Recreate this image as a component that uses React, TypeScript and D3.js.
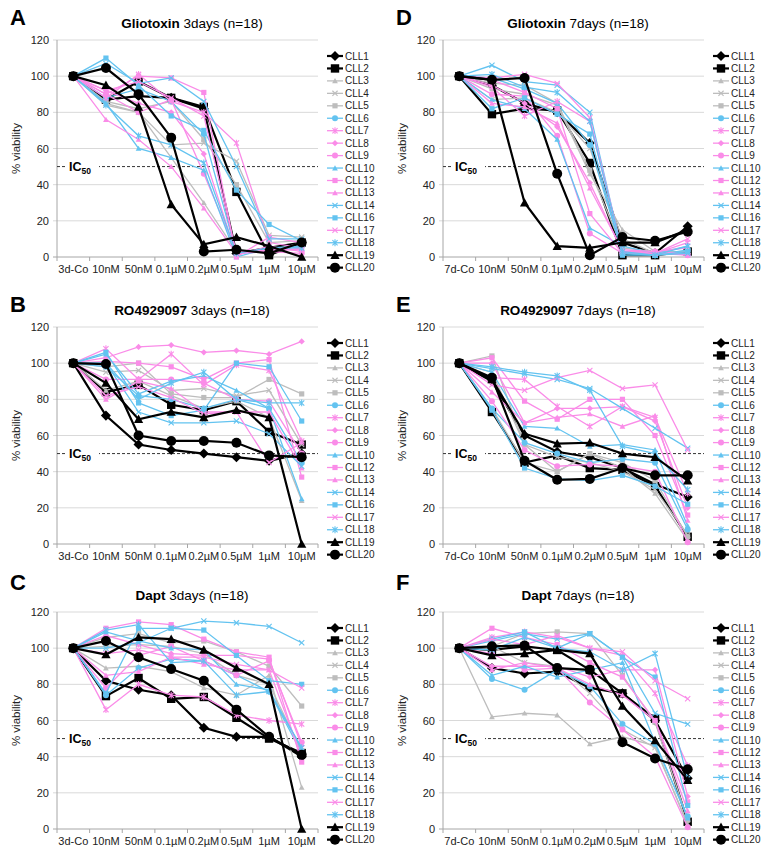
import React from "react";
import * as d3 from "d3";

const cats3 = ["3d-Co", "10nM", "50nM", "0.1µM", "0.2µM", "0.5µM", "1µM", "10µM"];
const cats7 = ["7d-Co", "10nM", "50nM", "0.1µM", "0.2µM", "0.5µM", "1µM", "10µM"];
const yTicks = [0, 20, 40, 60, 80, 100, 120];

const seriesNames = ["CLL1", "CLL2", "CLL3", "CLL4", "CLL5", "CLL6", "CLL7", "CLL8", "CLL9", "CLL10", "CLL12", "CLL13", "CLL14", "CLL16", "CLL17", "CLL18", "CLL19", "CLL20"];
const seriesGroup = ["k", "k", "g", "g", "g", "b", "p", "p", "p", "b", "p", "p", "b", "b", "p", "b", "k", "k"];
const seriesShape = ["diamond", "square", "triangle", "x", "square", "circle", "asterisk", "diamond", "circle", "triangle", "square", "triangle", "x", "square", "x", "asterisk", "triangle", "circle"];

// Gliotoxin 3 days
const glio3 = [
  [100, 87, 89, 88, 82, 2, 5, 8],
  [100, 87, 97, 88, 83, 36, 1, 8],
  [100, 85, 80, 55, 30, 3, 3, 8],
  [100, 84, 80, 62, 63, 53, 12, 11],
  [100, 86, 82, 86, 65, 40, 8, 9],
  [100, 88, 93, 86, 68, 2, 3, 6],
  [100, 88, 101, 86, 80, 63, 8, 5],
  [100, 92, 85, 80, 57, 1, 6, 3],
  [100, 90, 80, 87, 46, 3, 3, 2],
  [100, 85, 60, 55, 48, 0, 5, 6],
  [100, 90, 100, 99, 91, 0, 11, 8],
  [100, 76, 65, 50, 27, 2, 3, 5],
  [100, 107, 96, 99, 86, 50, 10, 10],
  [100, 110, 95, 78, 70, 37, 18, 9],
  [100, 92, 97, 88, 78, 2, 4, 4],
  [100, 84, 67, 62, 52, 2, 5, 5],
  [100, 95, 83, 29, 7, 11, 6, 0],
  [100, 104.5, 90, 66, 3, 4, 2, 8],
];

// Gliotoxin 7 days
const glio7 = [
  [100, 95, 85, 80, 63, 8, 2, 17],
  [100, 79, 82, 81, 52, 1, 1, 3],
  [100, 93, 90, 84, 46, 15, 3, 3],
  [100, 87, 88, 80, 60, 10, 2, 2],
  [100, 96, 95, 85, 48, 5, 3, 3],
  [100, 99, 93, 85, 62, 2, 1, 4],
  [100, 94, 78, 86, 75, 2, 2, 8],
  [100, 95, 85, 72, 41, 3, 3, 2],
  [100, 90, 89, 67, 13, 2, 3, 1],
  [100, 87, 82, 65, 16, 6, 2, 6],
  [100, 98, 91, 82, 24, 2, 2, 1],
  [100, 85, 83, 74, 38, 4, 3, 5],
  [100, 106, 97, 95, 80, 2, 1, 2],
  [100, 82, 88, 79, 68, 1, 1, 3],
  [100, 99, 101, 96, 77, 3, 2, 10],
  [100, 101, 94, 91, 75, 3, 1, 6],
  [100, 98, 30, 6, 5, 8, 8, 15],
  [100, 98, 99, 46, 1, 11, 9, 14],
];

// RO4929097 3 days
const ro3 = [
  [100, 71, 55, 52, 50, 48, 46, 50],
  [100, 84, 88, 77, 74, 79, 62, 55],
  [100, 85, 90, 82, 75, 79, 70, 24],
  [100, 95, 96, 85, 86, 82, 85, 55],
  [100, 98, 100, 83, 81, 81, 91, 83],
  [100, 98, 82, 80, 75, 80, 75, 45],
  [100, 108, 91, 105, 88, 99, 96, 57],
  [100, 103, 109, 110, 106, 107, 105, 112],
  [100, 91, 91, 91, 89, 80, 79, 50],
  [100, 105, 83, 90, 93, 85, 75, 25],
  [100, 101, 100, 98, 91, 100, 102, 37],
  [100, 80, 90, 86, 73, 73, 73, 42],
  [100, 100, 73, 67, 67, 68, 61, 43],
  [100, 106, 78, 71, 74, 100, 98, 68],
  [100, 82, 87, 81, 72, 73, 45, 56],
  [100, 100, 80, 89, 95, 80, 78, 78],
  [100, 89, 69, 73, 70, 74, 70, 0],
  [100, 99.5, 60, 57, 57, 56, 49, 48],
];

// RO4929097 7 days
const ro7 = [
  [100, 90, 60, 51, 48, 42, 33, 26],
  [100, 73, 45, 49, 42, 41, 32, 4],
  [100, 75, 45, 40, 50, 42, 28, 2],
  [100, 95, 55, 48, 45, 40, 30, 5],
  [100, 104, 55, 40, 50, 45, 35, 4],
  [100, 75, 56, 50, 45, 47, 45, 8],
  [100, 92, 91, 76, 65, 76, 70, 28],
  [100, 100, 67, 75, 75, 76, 68, 20],
  [100, 79, 52, 43, 44, 43, 40, 1],
  [100, 95, 65, 64, 54, 55, 52, 10],
  [100, 103, 79, 69, 80, 80, 60, 16],
  [100, 84, 67, 70, 72, 65, 71, 13],
  [100, 97, 94, 91, 86, 75, 64, 53],
  [100, 74, 42, 36, 35, 38, 32, 22],
  [100, 88, 85, 92, 96, 86, 88, 52],
  [100, 98, 95, 93, 85, 54, 50, 30],
  [100, 91, 61, 55.5, 56, 50, 48, 35],
  [100, 92, 46, 35.5, 36, 42, 38, 38],
];

// Dapt 3 days
const dapt3 = [
  [100, 82, 77, 74, 56, 51, 51, 40],
  [100, 73.5, 83.5, 72, 73, 61.5, 50, 42],
  [100, 89, 90, 87, 78, 74, 85, 23],
  [100, 101, 102, 101, 97, 85, 80, 43],
  [100, 106, 108, 103, 104, 98, 90, 68],
  [100, 74, 89, 94, 93, 85, 76, 42],
  [100, 66, 80, 74, 73, 63, 60, 58],
  [100, 107, 102, 97, 96, 96, 94, 46],
  [100, 78, 96, 101, 93, 85, 93, 48],
  [100, 109, 104, 100, 99, 80, 77, 44],
  [100, 111, 114.5, 113, 105, 98, 95, 37],
  [100, 85, 87, 95, 91, 88, 88, 40],
  [100, 100, 103, 111, 115, 114, 112, 103],
  [100, 75, 111, 111, 110, 96, 82, 80],
  [100, 97, 99, 95, 95, 91, 88, 78],
  [100, 110, 113, 92, 93, 74, 76, 45],
  [100, 96.5, 106, 105, 99, 89, 80, 0],
  [100, 104, 95, 88.5, 82, 66, 51, 41],
];

// Dapt 7 days
const dapt7 = [
  [100, 89, 86, 87, 78, 75, 60, 28],
  [100, 99, 101, 99, 88, 75, 61, 4],
  [100, 62, 64, 63, 47, 51, 46, 2],
  [100, 101, 92, 90, 75, 55, 45, 3],
  [100, 101, 108, 109, 108, 85, 59, 5],
  [100, 83, 77, 88, 79, 58, 47, 7],
  [100, 106, 109, 106, 100, 96, 75, 35],
  [100, 90, 90, 90, 84, 88, 88, 18],
  [100, 97, 88, 89, 70, 55, 40, 1],
  [100, 85, 90, 84, 88, 92, 48, 6],
  [100, 111, 106, 102, 92, 84, 60, 15],
  [100, 88, 92, 89, 80, 74, 60, 10],
  [100, 104, 108, 105, 108, 95, 64, 58],
  [100, 105, 109, 100, 108, 95, 84, 13],
  [100, 105, 102, 107, 100, 98, 82, 72],
  [100, 99, 106, 100, 98, 88, 97, 28],
  [100, 96, 97, 99, 97, 68, 49, 27],
  [100, 101, 101.5, 89, 88, 48, 39, 33],
];

const colorOf: Record<string, string> = { k: "#000000", g: "#BDBDBD", b: "#63C3F0", p: "#FA8CE8" };

const FONT = "'Liberation Sans', Arial, sans-serif";

function markerPath(shape: string, s: number): string {
  switch (shape) {
    case "square":
      return `M${-s},${-s}h${2 * s}v${2 * s}h${-2 * s}Z`;
    case "diamond":
      return `M0,${-s * 1.2}L${s * 1.2},0L0,${s * 1.2}L${-s * 1.2},0Z`;
    case "triangle":
      return `M0,${-s * 1.1}L${s * 1.1},${s * 0.9}L${-s * 1.1},${s * 0.9}Z`;
    case "x":
      return `M${-s},${-s}L${s},${s}M${-s},${s}L${s},${-s}`;
    case "asterisk":
      return `M${-s},${-s}L${s},${s}M${-s},${s}L${s},${-s}M0,${-s * 1.3}L0,${s * 1.3}`;
    default:
      return "";
  }
}

function Marker({ shape, color, big, x, y }: { shape: string; color: string; big: boolean; x: number; y: number }) {
  const s = big ? 4.2 : 2.6;
  if (shape === "circle") {
    return <circle cx={x} cy={y} r={big ? 5 : 3} fill={color} />;
  }
  const stroke = shape === "x" || shape === "asterisk";
  return (
    <path
      transform={`translate(${x},${y})`}
      d={markerPath(shape, s)}
      fill={stroke ? "none" : color}
      stroke={stroke ? color : "none"}
      strokeWidth={big ? 2 : 1.1}
    />
  );
}

type PanelProps = {
  letter: string;
  drug: string;
  rest: string;
  cats: string[];
  data: number[][];
  left: number;
  top: number;
  letterY: number;
};

function Panel({ letter, drug, rest, cats, data, left, top, letterY }: PanelProps) {
  const width = 261;
  const height = 217;
  const right = left + width;
  const bottom = top + height;
  const x = d3.scaleBand<string>().domain(cats).range([left, right]);
  const y = d3.scaleLinear().domain([0, 120]).range([bottom, top]);
  const line = d3
    .line<number>()
    .x((_, i) => (x(cats[i]) as number) + x.bandwidth() / 2)
    .y((v) => y(v));
  const legendX = right + 9;
  const legendY0 = top + 16;
  const legendStep = 12.45;
  return (
    <g>
      <text x={left - 47} y={letterY} fontSize={22} fontWeight="bold" fontFamily={FONT}>
        {letter}
      </text>
      <text x={left + 135} y={top - 12} fontSize={13.5} textAnchor="middle" fontFamily={FONT}>
        <tspan fontWeight="bold">{drug}</tspan>
        <tspan>{" " + rest}</tspan>
      </text>
      {yTicks.map((t) => (
        <g key={t}>
          <line x1={left - 4} x2={right} y1={y(t)} y2={y(t)} stroke={t === 0 ? "#A6A6A6" : "#D9D9D9"} strokeWidth={1} />
          <text x={left - 8} y={y(t) + 4} fontSize={11} textAnchor="end" fontFamily={FONT} fill="#222">
            {t}
          </text>
        </g>
      ))}
      <line x1={left} x2={left} y1={top} y2={bottom} stroke="#A6A6A6" strokeWidth={1} />
      {d3.range(cats.length + 1).map((i) => {
        const xx = left + i * x.bandwidth();
        return <line key={i} x1={xx} x2={xx} y1={bottom} y2={bottom + 4} stroke="#A6A6A6" />;
      })}
      {cats.map((c) => (
        <text
          key={c}
          x={(x(c) as number) + x.bandwidth() / 2}
          y={bottom + 16}
          fontSize={11}
          textAnchor="middle"
          fontFamily={FONT}
          fill="#222"
        >
          {c}
        </text>
      ))}
      <text
        transform={`translate(${left - 37},${(top + bottom) / 2}) rotate(-90)`}
        fontSize={11.5}
        textAnchor="middle"
        fontFamily={FONT}
        fill="#222"
      >
        % viability
      </text>
      {/* IC50 line */}
      <line x1={left} x2={right} y1={y(50)} y2={y(50)} stroke="#333" strokeWidth={1} strokeDasharray="3,2" />
      <rect x={left + 8} y={y(50) - 8} width={34} height={16} fill="#fff" />
      <text x={left + 12} y={y(50) + 4} fontSize={12.5} fontWeight="bold" fontFamily={FONT}>
        IC
        <tspan fontSize={8.5} dy={3}>
          50
        </tspan>
      </text>
      {/* series */}
      {data.map((vals, si) => {
        const g = seriesGroup[si];
        const big = g === "k";
        const color = colorOf[g];
        return (
          <g key={si}>
            <path d={line(vals) as string} fill="none" stroke={color} strokeWidth={big ? 2.2 : 1.3} />
            {vals.map((v, i) => (
              <Marker
                key={i}
                shape={seriesShape[si]}
                color={color}
                big={big}
                x={(x(cats[i]) as number) + x.bandwidth() / 2}
                y={y(v)}
              />
            ))}
          </g>
        );
      })}
      {/* legend */}
      {seriesNames.map((n, si) => {
        const g = seriesGroup[si];
        const big = g === "k";
        const color = colorOf[g];
        const ly = legendY0 + si * legendStep;
        return (
          <g key={n}>
            <line x1={legendX} x2={legendX + 16} y1={ly} y2={ly} stroke={color} strokeWidth={big ? 2.2 : 1.3} />
            <Marker shape={seriesShape[si]} color={color} big={big} x={legendX + 8} y={ly} />
            <text x={legendX + 18} y={ly + 3.5} fontSize={10} fontFamily={FONT} fill="#222">
              {n}
            </text>
          </g>
        );
      })}
    </g>
  );
}

export default function App() {
  const lefts = [57, 443];
  const tops = [40, 327, 612];
  const letterYs = [25, 312, 590];
  return (
    <svg
      width={770}
      height={858}
      viewBox="0 0 770 858"
      style={{ position: "absolute", left: 0, top: 0, background: "#fff" }}
    >
      <rect width={770} height={858} fill="#fff" />
      <Panel letter="A" drug="Gliotoxin" rest="3days (n=18)" cats={cats3} data={glio3} left={lefts[0]} top={tops[0]} letterY={letterYs[0]} />
      <Panel letter="D" drug="Gliotoxin" rest="7days (n=18)" cats={cats7} data={glio7} left={lefts[1]} top={tops[0]} letterY={letterYs[0]} />
      <Panel letter="B" drug="RO4929097" rest="3days (n=18)" cats={cats3} data={ro3} left={lefts[0]} top={tops[1]} letterY={letterYs[1]} />
      <Panel letter="E" drug="RO4929097" rest="7days (n=18)" cats={cats7} data={ro7} left={lefts[1]} top={tops[1]} letterY={letterYs[1]} />
      <Panel letter="C" drug="Dapt" rest="3days (n=18)" cats={cats3} data={dapt3} left={lefts[0]} top={tops[2]} letterY={letterYs[2]} />
      <Panel letter="F" drug="Dapt" rest="7days (n=18)" cats={cats7} data={dapt7} left={lefts[1]} top={tops[2]} letterY={letterYs[2]} />
    </svg>
  );
}
